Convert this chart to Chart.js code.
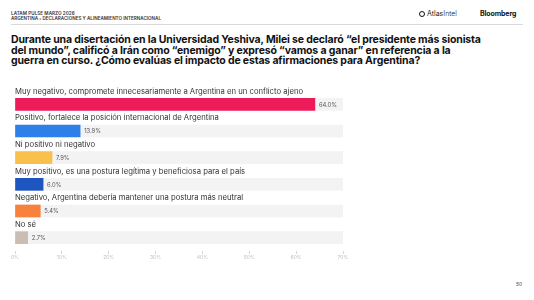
<!DOCTYPE html>
<html>
<head>
<meta charset="utf-8">
<script src="https://cdn.jsdelivr.net/npm/chart.js@4"></script>
<style>
  html, body { margin: 0; padding: 0; background: #fff; }
  body { width: 534px; height: 300px; position: relative; overflow: hidden; font-family: "Inter", "Noto Sans", sans-serif; }
  .hdr1 { position: absolute; left: 11px; top: 11px; font-size: 4.6px; color: #333; font-weight: 600; letter-spacing: 0.05px; }
  .hdr2 { position: absolute; left: 11px; top: 16px; font-size: 4.6px; color: #333; font-weight: 600; }
  .rule { position: absolute; left: 11px; top: 24px; width: 512px; height: 1px; background: #d9d9d9; }
  .atlas { position: absolute; left: 419px; top: 9px; font-size: 7px; color: #222; display: flex; align-items: center; }
  .atlas .ring { width: 4px; height: 4px; border: 1.6px solid #111; border-radius: 50%; margin-right: 2px; }
  .bloom { position: absolute; left: 480px; top: 9px; font-size: 7px; color: #111; font-weight: 700; letter-spacing: -0.1px; }
  .title { position: absolute; left: 11px; top: 35px; font-size: 10.5px; line-height: 10.6px; font-weight: 700; color: #111; letter-spacing: -0.15px; white-space: nowrap; }
  .page { position: absolute; left: 516px; top: 281px; font-size: 5px; color: #444; }
  #wrap { position: absolute; left: 0; top: 80px; width: 534px; height: 180px; }
</style>
</head>
<body>
<div class="hdr1">LATAM PULSE MARZO 2026</div>
<div class="hdr2">ARGENTINA › DECLARACIONES Y ALINEAMIENTO INTERNACIONAL</div>
<div class="atlas"><span class="ring"></span><span>Atlas<span style="font-weight:300">Intel</span></span></div>
<div class="bloom">Bloomberg</div>
<div class="rule"></div>
<div class="title">Durante una disertación en la Universidad Yeshiva, Milei se declaró “el presidente más sionista<br>del mundo”, calificó a Irán como “enemigo” y expresó “vamos a ganar” en referencia a la<br>guerra en curso. ¿Cómo evalúas el impacto de estas afirmaciones para Argentina?</div>
<div id="wrap"><canvas id="c" width="534" height="180"></canvas></div>
<div class="page">50</div>
<script>
const categories = [
  "Muy negativo, compromete innecesariamente a Argentina en un conflicto ajeno",
  "Positivo, fortalece la posición internacional de Argentina",
  "Ni positivo ni negativo",
  "Muy positivo, es una postura legítima y beneficiosa para el país",
  "Negativo, Argentina debería mantener una postura más neutral",
  "No sé"
];
const values = [64.0, 13.9, 7.9, 6.0, 5.4, 2.7];
const barColors = ["#ee1b5b", "#2e7fe8", "#f9c04b", "#1d56c1", "#f7813d", "#c9bdb4"];
const axisMax = 70;
const tickStep = 10;
const trackValues = categories.map(() => axisMax);

const labelPlugin = {
  id: 'rowLabels',
  afterDatasetsDraw(chart) {
    const ctx = chart.ctx;
    const xs = chart.scales.x, ys = chart.scales.y;
    ctx.save();
    ctx.textBaseline = 'middle';
    categories.forEach((cat, i) => {
      const yc = ys.getPixelForValue(i);
      ctx.font = '400 7.7px "Inter", "Noto Sans", sans-serif';
      ctx.fillStyle = '#333';
      ctx.textAlign = 'left';
      ctx.fillText(cat, xs.getPixelForValue(0), yc - 13);
      ctx.font = '400 5.8px "Inter", "Noto Sans", sans-serif';
      ctx.fillStyle = '#555';
      ctx.fillText(values[i].toFixed(1) + '%', xs.getPixelForValue(values[i]) + 4, yc + 0.5);
    });
    ctx.restore();
  }
};

new Chart(document.getElementById('c'), {
  type: 'bar',
  data: {
    labels: categories,
    datasets: [
      { data: values, backgroundColor: barColors, barThickness: 12, grouped: false },
      { data: trackValues, backgroundColor: '#f3f3f3', barThickness: 12, grouped: false }
    ]
  },
  options: {
    indexAxis: 'y',
    responsive: false,
    animation: false,
    devicePixelRatio: 1,
    layout: { padding: { left: 15, right: 191, top: 11, bottom: 0 } },
    plugins: { legend: { display: false }, tooltip: { enabled: false } },
    scales: {
      x: {
        min: 0, max: axisMax,
        border: { display: false },
        grid: { drawOnChartArea: false, drawTicks: true, tickLength: 3, color: '#d6d6d6' },
        ticks: { stepSize: tickStep, padding: 0, color: '#c0c0c0', font: { size: 5, family: 'Inter' }, callback: v => v + '%' }
      },
      y: { display: false }
    }
  },
  plugins: [labelPlugin]
});
</script>
</body>
</html>
